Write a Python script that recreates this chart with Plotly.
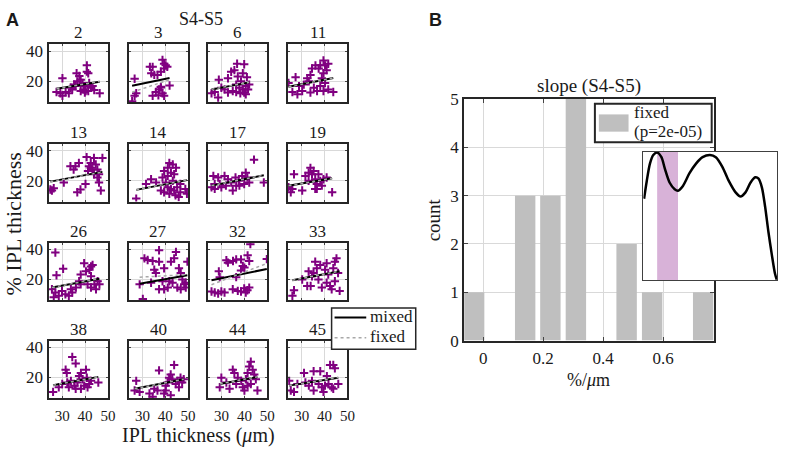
import plotly.graph_objects as go

W, H = 787, 455

# ---------------- data: panel A (per-cell scatter, % IPL thickness vs IPL thickness) ----------------
panel_ids = [2, 3, 6, 11, 13, 14, 17, 19, 26, 27, 32, 33, 38, 40, 44, 45]

x_2 = [30.1, 27.5, 29.2, 30.1, 31.5, 32.9, 33.7, 36.6, 36.3, 37.5, 38.1, 38.9, 39.6, 40.3, 40.8, 41.4, 40.8, 41.8, 42.6, 43.3, 44.0, 46.4, 39.3, 38.1, 35.9, 34.4, 41.4, 39.9, 35.2]
y_2 = [21.9, 12.7, 11.8, 10.1, 12.7, 11.8, 15.5, 19.8, 25.2, 23.4, 20.9, 18.7, 16.6, 13.3, 30.5, 25.2, 26.3, 18.7, 15.5, 16.6, 14.0, 11.8, 14.4, 13.3, 16.6, 14.4, 13.3, 12.3, 17.6]

x_3 = [25.5, 26.6, 26.6, 27.3, 33.3, 34.5, 33.9, 35.2, 36.6, 38.1, 38.8, 39.5, 40.2, 40.9, 39.5, 34.5, 35.9, 37.3, 38.1, 38.8, 39.5, 38.1, 41.9, 37.0]
y_3 = [6.5, 10.1, 21.5, 11.8, 29.5, 29.5, 25.2, 24.1, 24.1, 26.2, 34.2, 31.6, 30.5, 29.5, 28.4, 10.1, 12.7, 14.4, 16.1, 11.8, 10.1, 15.7, 17.0, 10.5]

x_6 = [25.6, 27.0, 28.5, 28.8, 29.9, 32.8, 34.2, 35.6, 36.8, 39.9, 37.1, 39.3, 41.1, 38.5, 36.4, 37.8, 39.3, 40.6, 41.6, 39.9, 38.2, 34.9, 32.8, 31.3, 42.1, 40.6, 36.4]
y_6 = [11.8, 12.7, 9.0, 20.9, 15.5, 21.9, 26.2, 27.3, 31.6, 31.2, 23.0, 25.2, 22.6, 19.8, 17.6, 15.5, 14.4, 16.6, 14.4, 12.3, 11.8, 13.3, 12.3, 14.4, 17.6, 11.2, 12.7]

x_11 = [24.2, 25.9, 27.3, 28.1, 30.2, 30.9, 32.4, 33.8, 34.5, 36.0, 37.4, 38.1, 39.5, 40.2, 40.9, 41.6, 39.5, 38.8, 40.2, 38.1, 36.7, 35.3, 33.8, 39.5, 41.6, 43.8, 33.1, 28.8]
y_11 = [18.7, 12.7, 22.6, 11.2, 13.3, 17.6, 21.9, 24.1, 28.4, 30.5, 28.4, 30.5, 33.8, 30.5, 27.3, 31.6, 25.2, 21.9, 18.7, 16.6, 13.3, 15.5, 12.3, 13.3, 14.4, 12.7, 19.8, 16.6]

x_13 = [24.8, 25.5, 26.3, 30.7, 33.6, 35.8, 37.3, 36.6, 38.0, 40.2, 40.7, 41.7, 42.5, 43.9, 44.7, 45.4, 43.2, 41.3, 45.4, 46.1, 46.9, 47.6, 46.1, 43.9, 42.5, 35.0]
y_13 = [14.1, 13.4, 14.9, 18.8, 29.7, 29.7, 31.9, 12.3, 14.1, 17.8, 35.8, 29.7, 31.9, 35.2, 30.8, 27.5, 27.5, 26.5, 22.1, 18.8, 13.4, 35.2, 24.3, 24.3, 28.6, 27.5]

x_14 = [27.3, 31.6, 33.8, 36.0, 38.8, 39.5, 41.1, 41.8, 43.3, 44.7, 42.5, 43.9, 41.1, 38.1, 39.5, 41.1, 42.5, 43.9, 45.2, 46.6, 45.9, 44.5, 41.8, 48.8, 49.5, 40.3, 43.3, 46.6]
y_14 = [8.0, 17.8, 21.0, 18.8, 22.1, 26.5, 28.6, 31.9, 30.8, 28.6, 25.4, 24.3, 23.2, 13.4, 12.3, 15.6, 14.5, 13.4, 15.6, 12.3, 9.1, 10.2, 11.2, 14.5, 11.2, 18.8, 20.0, 17.8]

x_17 = [25.6, 26.4, 27.0, 28.5, 29.9, 31.3, 32.8, 34.2, 34.9, 36.1, 37.5, 39.0, 40.6, 41.3, 39.9, 37.8, 44.2, 48.5, 31.9, 29.2, 42.1, 36.4, 27.0]
y_17 = [15.6, 23.2, 14.5, 22.1, 15.6, 23.2, 21.0, 18.8, 13.4, 22.1, 19.9, 23.2, 25.4, 22.1, 17.8, 16.7, 34.1, 18.8, 16.7, 17.8, 18.8, 16.7, 17.8]

x_19 = [24.2, 25.2, 26.6, 25.9, 30.2, 31.6, 33.0, 33.8, 34.5, 35.2, 35.9, 36.6, 37.3, 38.1, 36.6, 38.8, 39.5, 40.9, 35.9, 43.3, 33.0]
y_19 = [15.6, 12.3, 24.3, 14.5, 13.4, 23.2, 25.4, 28.6, 24.3, 26.5, 21.0, 17.8, 24.3, 19.9, 14.5, 16.7, 21.0, 22.1, 14.5, 12.3, 19.9]

x_26 = [27.0, 27.5, 30.4, 25.5, 27.0, 28.5, 29.9, 31.4, 32.9, 33.8, 36.0, 37.4, 38.1, 39.6, 40.4, 41.9, 42.6, 43.3, 42.6, 41.1, 42.6, 44.1, 44.8, 45.5, 46.3, 38.1, 34.4, 26.3]
y_26 = [38.0, 22.8, 27.1, 13.4, 11.2, 9.1, 12.3, 10.1, 9.1, 13.4, 14.5, 18.8, 23.2, 30.8, 25.4, 26.5, 28.6, 29.7, 22.1, 16.7, 14.5, 16.7, 13.4, 18.8, 16.7, 16.7, 11.2, 8.0]

x_27 = [30.2, 28.8, 30.9, 32.3, 34.5, 35.9, 35.2, 37.3, 37.3, 39.5, 38.8, 39.5, 41.1, 41.8, 42.5, 43.9, 44.7, 46.0, 46.8, 47.5, 48.3, 49.0, 49.7, 43.2, 45.3, 46.8, 37.3, 33.8, 49.0]
y_27 = [6.9, 16.7, 34.1, 33.0, 32.3, 24.3, 26.5, 39.5, 31.9, 27.5, 18.8, 13.4, 14.5, 18.8, 31.9, 34.1, 38.4, 27.5, 24.3, 19.9, 16.7, 14.5, 31.9, 17.8, 14.5, 13.4, 13.4, 17.8, 17.8]

x_32 = [25.6, 27.0, 28.5, 29.9, 31.3, 28.8, 32.1, 32.8, 35.0, 36.4, 38.5, 39.3, 40.0, 41.4, 42.1, 42.6, 49.8, 34.9, 37.1, 38.5, 39.9, 40.6, 41.3, 42.1, 29.2, 36.4, 38.5]
y_32 = [11.9, 11.2, 10.6, 11.9, 11.2, 25.4, 32.8, 31.2, 32.3, 33.4, 33.4, 29.0, 27.9, 36.1, 32.3, 43.6, 33.6, 13.4, 12.3, 11.9, 14.0, 11.2, 12.7, 14.5, 21.5, 21.5, 26.0]

x_33 = [25.9, 26.6, 30.2, 32.4, 33.9, 34.5, 35.2, 35.9, 36.6, 38.1, 38.8, 40.2, 40.9, 41.6, 42.4, 43.1, 43.8, 44.5, 45.2, 45.9, 46.6, 40.9, 33.0, 37.3, 44.5]
y_33 = [9.1, 12.7, 19.9, 15.6, 15.6, 22.1, 24.3, 31.9, 27.5, 29.7, 14.5, 26.5, 30.8, 23.2, 15.6, 13.4, 27.5, 31.9, 34.1, 24.3, 12.3, 17.8, 25.4, 19.9, 18.8]

x_38 = [26.0, 32.2, 34.4, 35.9, 31.5, 32.0, 33.8, 35.3, 36.7, 37.4, 38.2, 38.9, 39.6, 40.4, 40.8, 41.8, 42.6, 41.1, 32.9, 30.0, 28.5, 45.8, 38.2, 35.9]
y_38 = [10.1, 16.4, 33.5, 29.2, 25.0, 22.8, 17.5, 14.3, 16.4, 20.7, 22.8, 18.6, 14.3, 25.0, 19.6, 15.4, 17.5, 13.2, 13.2, 15.4, 13.2, 16.4, 12.2, 12.2]

x_40 = [27.3, 26.6, 28.8, 33.1, 34.5, 35.2, 36.6, 37.3, 39.5, 40.2, 41.0, 41.7, 42.4, 43.1, 43.9, 44.6, 45.3, 46.0, 46.7, 47.4, 48.1, 42.4, 40.2]
y_40 = [17.5, 11.1, 10.1, 9.0, 6.9, 12.2, 11.1, 24.5, 9.0, 14.3, 16.4, 19.6, 21.8, 18.6, 28.1, 15.4, 17.5, 13.2, 19.6, 16.4, 18.6, 7.9, 11.1]

x_44 = [29.2, 29.9, 33.5, 34.9, 35.6, 36.4, 37.1, 39.3, 40.0, 40.7, 41.4, 42.1, 42.8, 43.6, 44.3, 45.0, 45.7, 42.8, 41.4, 38.6, 32.1]
y_44 = [13.2, 19.6, 12.2, 25.0, 22.8, 15.4, 19.6, 13.2, 11.1, 18.6, 22.8, 27.1, 30.3, 25.0, 21.8, 18.6, 11.1, 15.4, 14.3, 17.5, 16.4]

x_45 = [24.5, 25.2, 26.6, 28.1, 31.0, 31.6, 34.5, 35.2, 35.2, 38.1, 37.4, 38.8, 39.5, 41.0, 41.7, 42.4, 43.8, 44.5, 43.1, 43.8, 46.0, 40.2, 33.1]
y_45 = [17.5, 11.1, 10.1, 15.4, 22.8, 16.4, 17.5, 11.1, 23.9, 23.9, 15.4, 13.2, 10.1, 20.7, 15.4, 28.1, 28.1, 26.0, 13.2, 12.2, 15.4, 14.3, 14.3]

panel_x = [x_2, x_3, x_6, x_11, x_13, x_14, x_17, x_19, x_26, x_27, x_32, x_33, x_38, x_40, x_44, x_45]
panel_y = [y_2, y_3, y_6, y_11, y_13, y_14, y_17, y_19, y_26, y_27, y_32, y_33, y_38, y_40, y_44, y_45]

mixed_slope = [0.254, 0.313, 0.285, 0.301, 0.286, 0.294, 0.301, 0.261, 0.284, 0.273, 0.313, 0.291, 0.281, 0.298, 0.285, 0.247]
mixed_icpt = [7.81, 8.91, 7.11, 8.83, 12.29, 5.83, 8.99, 10.31, 7.27, 9.25, 11.36, 11.86, 7.30, 4.28, 7.09, 8.26]
fixed_slope = [0.262, 0.513, 0.290, 0.305, 0.280, 0.300, 0.305, 0.265, 0.290, 0.081, 0.587, 0.295, 0.285, 0.300, 0.290, 0.250]
fixed_icpt = [7.60, -0.57, 7.00, 8.70, 12.40, 5.70, 8.90, 10.20, 7.20, 19.16, 1.43, 11.80, 7.20, 4.20, 7.00, 8.20]

# ---------------- data: panel B (histogram of slopes + inset density) ----------------
hist_centers = [-0.030, 0.055, 0.140, 0.224, 0.309, 0.394, 0.478, 0.563, 0.648, 0.733]
hist_counts = [1, 0, 3, 3, 5, 0, 2, 1, 0, 1]
hist_ticks = [0, 0.2, 0.4, 0.6]
hist_ticklabels = ["0", "0.2", "0.4", "0.6"]

inset_x = [0.005, 0.025, 0.049, 0.074, 0.103, 0.135, 0.160, 0.197, 0.234, 0.259, 0.296, 0.345, 0.394, 0.443,
           0.498, 0.542, 0.591, 0.640, 0.690, 0.727, 0.764, 0.801, 0.837, 0.862, 0.887, 0.911, 0.936, 0.961, 0.985, 0.998]
inset_y = [0.634, 0.771, 0.908, 0.975, 0.995, 0.958, 0.871, 0.759, 0.709, 0.697, 0.734, 0.833, 0.908, 0.958,
           0.975, 0.958, 0.883, 0.771, 0.684, 0.652, 0.684, 0.759, 0.801, 0.791, 0.721, 0.572, 0.373, 0.199, 0.050, 0.005]
inset_band = [0.103, 0.259]

legend_a_names = ["mixed", "fixed"]
legend_b_lines = ["fixed", "(p=2e-05)"]

# ---------------- styling ----------------
SERIF = "Liberation Serif"
SANS = "Liberation Sans"
PURPLE = "#800080"
AXC = "#262626"
GRID = "#d9d9d9"
TXT = "#1a1a1a"
TICK = 17
TICK_A = 15


def px(xp):
    return xp / W


def py(yp):
    return 1 - yp / H


col_left = [49, 130, 210, 291]
row_top = [37, 141, 244, 346]
SZ = 60

fig = go.Figure()
layout = dict(
    width=W, height=H, margin=dict(l=0, r=0, t=0, b=0),
    plot_bgcolor="white", paper_bgcolor="white",
    font=dict(family=SERIF, size=TICK, color=TXT),
    showlegend=False,
)
annotations = []
shapes = []

for i, pid in enumerate(panel_ids):
    r, c = divmod(i, 4)
    k = i + 1
    xs = "x" if k == 1 else f"x{k}"
    ys = "y" if k == 1 else f"y{k}"
    L = col_left[c]
    T = row_top[r]
    layout["xaxis" if k == 1 else f"xaxis{k}"] = dict(
        domain=[px(L), px(L + SZ)], range=[24, 50], anchor=ys,
        tickvals=[30, 40, 50], showticklabels=(r == 3), ticks="inside", ticklen=2,
        showline=True, mirror="ticks", linecolor=AXC, linewidth=2,
        showgrid=True, gridcolor=GRID, gridwidth=1, zeroline=False,
        tickfont=dict(family=SERIF, size=TICK_A, color=TXT), ticklabelstandoff=3,
    )
    layout["yaxis" if k == 1 else f"yaxis{k}"] = dict(
        domain=[py(T + SZ), py(T)], range=[6, 44.5], anchor=xs,
        tickvals=[20, 40], showticklabels=(c == 0), ticks="inside", ticklen=2,
        showline=True, mirror="ticks", linecolor=AXC, linewidth=2,
        showgrid=True, gridcolor=GRID, gridwidth=1, zeroline=False,
        tickfont=dict(family=SERIF, size=TICK, color=TXT),
    )
    xv, yv = panel_x[i], panel_y[i]
    fig.add_trace(go.Scatter(
        x=xv, y=yv, mode="markers", xaxis=xs, yaxis=ys,
        marker=dict(symbol="cross-thin", size=6, color=PURPLE, line=dict(color=PURPLE, width=2)),
    ))
    lx = [min(xv), max(xv)]
    fig.add_trace(go.Scatter(
        x=lx, y=[mixed_slope[i] * v + mixed_icpt[i] for v in lx], mode="lines",
        xaxis=xs, yaxis=ys, name="mixed", line=dict(color="black", width=2),
    ))
    fig.add_trace(go.Scatter(
        x=lx, y=[fixed_slope[i] * v + fixed_icpt[i] for v in lx], mode="lines",
        xaxis=xs, yaxis=ys, name="fixed", line=dict(color="#a8a8a8", width=1.5, dash="dot"),
    ))
    annotations.append(dict(text=str(pid), x=px(L + SZ / 2), y=py(T - 12), xref="paper", yref="paper",
                            showarrow=False, xanchor="center", yanchor="middle",
                            font=dict(family=SERIF, size=TICK, color=TXT)))

# ---------------- legend of panel A (drawn) ----------------
shapes.append(dict(type="rect", xref="paper", yref="paper", x0=px(335), x1=px(420), y0=py(355), y1=py(312),
                   fillcolor="white", line=dict(color=AXC, width=1.5), layer="above"))
shapes.append(dict(type="line", xref="paper", yref="paper", x0=px(338), x1=px(370), y0=py(322), y1=py(322),
                   line=dict(color="black", width=2), layer="above"))
shapes.append(dict(type="line", xref="paper", yref="paper", x0=px(338), x1=px(370), y0=py(343), y1=py(343),
                   line=dict(color="#a8a8a8", width=1.5, dash="dot"), layer="above"))
for name, yy in zip(legend_a_names, [321, 342]):
    annotations.append(dict(text=name, x=px(372), y=py(yy), xref="paper", yref="paper", showarrow=False,
                            xanchor="left", yanchor="middle", font=dict(family=SERIF, size=17, color=TXT)))

# ---------------- histogram (panel B) ----------------
layout["xaxis17"] = dict(
    domain=[px(469), px(721)], range=[-0.063, 0.768], anchor="y17",
    tickvals=hist_ticks, ticktext=hist_ticklabels, ticks="inside", ticklen=4,
    showline=True, mirror="ticks", linecolor=AXC, linewidth=2,
    showgrid=True, gridcolor=GRID, zeroline=False,
    tickfont=dict(family=SERIF, size=TICK, color=TXT), ticklabelstandoff=1,
)
layout["yaxis17"] = dict(
    domain=[py(346), py(94)], range=[0, 5], anchor="x17", dtick=1,
    ticks="inside", ticklen=4,
    showline=True, mirror="ticks", linecolor=AXC, linewidth=2,
    showgrid=True, gridcolor=GRID, zeroline=False,
    tickfont=dict(family=SERIF, size=TICK, color=TXT),
)
fig.add_trace(go.Bar(x=hist_centers, y=hist_counts, width=0.068, xaxis="x17", yaxis="y17",
                     marker=dict(color="#bfbfbf", line=dict(width=0))))

# ---------------- inset ----------------
layout["xaxis18"] = dict(domain=[px(650), px(785)], range=[0, 1], anchor="y18",
                         showticklabels=False, ticks="", showgrid=False, zeroline=False,
                         showline=True, mirror=True, linecolor="#404040", linewidth=1)
layout["yaxis18"] = dict(domain=[py(283), py(149)], range=[0, 1], anchor="x18",
                         showticklabels=False, ticks="", showgrid=False, zeroline=False,
                         showline=True, mirror=True, linecolor="#404040", linewidth=1)
shapes.append(dict(type="rect", xref="x18", yref="y18", x0=0, x1=1, y0=0, y1=1,
                   fillcolor="white", line=dict(width=0), layer="below"))
shapes.append(dict(type="rect", xref="x18", yref="y18", x0=inset_band[0], x1=inset_band[1], y0=0, y1=1,
                   fillcolor="#d8b2d8", line=dict(width=0), layer="below"))
fig.add_trace(go.Scatter(x=inset_x, y=inset_y, mode="lines", xaxis="x18", yaxis="y18",
                         line=dict(color="black", width=2.5, shape="spline", smoothing=0.8), cliponaxis=False))

# ---------------- legend of panel B (drawn) ----------------
shapes.append(dict(type="rect", xref="paper", yref="paper", x0=px(601), x1=px(719), y0=py(139), y1=py(99),
                   fillcolor="white", line=dict(color=AXC, width=2), layer="above"))
shapes.append(dict(type="rect", xref="paper", yref="paper", x0=px(605), x1=px(635), y0=py(128), y1=py(110),
                   fillcolor="#bfbfbf", line=dict(width=0), layer="above"))
for line_txt, yy in zip(legend_b_lines, [108, 128]):
    annotations.append(dict(text=line_txt, x=px(638), y=py(yy), xref="paper", yref="paper", showarrow=False,
                            xanchor="left", yanchor="middle", font=dict(family=SERIF, size=17, color=TXT)))


# ---------------- labels ----------------
def ann(text, x, y, size, family=SERIF, angle=0, xanchor="center", bold=False):
    annotations.append(dict(text=f"<b>{text}</b>" if bold else text, x=px(x), y=py(y), xref="paper", yref="paper",
                            showarrow=False, xanchor=xanchor, yanchor="middle", textangle=angle,
                            font=dict(family=family, size=size, color=TXT)))


ann("A", 4, 12, 18, SANS, xanchor="left", bold=True)
ann("B", 431, 12, 18, SANS, xanchor="left", bold=True)
ann("S4-S5", 203, 10, 18)
ann("% IPL thickness", 14, 224, 22, angle=-90)
ann("IPL thickness (<i>μ</i>m)", 201, 445, 20)
ann("slope (S4-S5)", 595, 80, 19)
ann("count", 438, 220, 19, angle=-90)
ann("%/<i>μ</i>m", 595, 387, 18)

layout["annotations"] = annotations
layout["shapes"] = shapes
fig.update_layout(**layout)
fig.write_html("out.html", config={"displayModeBar": False},
               post_script="document.body.style.margin='0px';")
